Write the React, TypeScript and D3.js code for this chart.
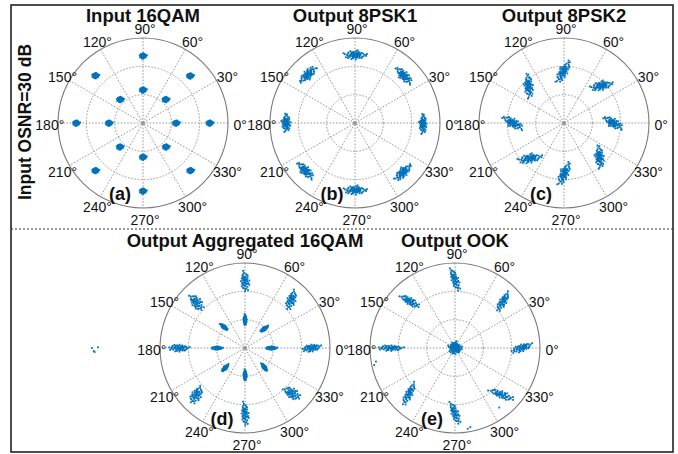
import React from 'react';
import * as d3 from 'd3';

// cluster = [angleDeg, radius, spreadMajor, spreadMinor, orientDeg, count]
type Cluster = [number, number, number, number, number, number];

const angleTicks = [0, 30, 60, 90, 120, 150, 180, 210, 240, 270, 300, 330];
const ringTicks = [1 / 3, 2 / 3];

const titles = ['Input 16QAM', 'Output 8PSK1', 'Output 8PSK2', 'Output Aggregated 16QAM', 'Output OOK'];
const tags = ['(a)', '(b)', '(c)', '(d)', '(e)'];

// hand-typed scatter pattern (unit offsets) reused for every cloud
const jitter: [number, number][] = [
  [0.12, -0.31], [-0.35, 0.08], [0.47, 0.22], [-0.18, -0.54], [0.23, 0.41], [-0.62, -0.17], [0.05, 0.09], [0.71, -0.24], [-0.26, 0.52], [0.24, -0.05],
  [-0.48, -0.39], [0.37, -0.58], [-0.09, 0.25], [0.56, 0.41], [-0.85, 0.15], [0.08, 0.78], [-0.17, -0.16], [0.45, -0.12], [-0.58, 0.31], [0.02, -0.45],
  [0.29, 0.17], [-0.14, 0.61], [0.83, 0.04], [-0.31, -0.78], [0.19, -0.28], [-0.54, 0.49], [0.41, 0.33], [-0.03, -0.11], [0.14, 0.36], [-0.41, -0.02],
  [1.0, 0.2], [-0.32, 0.14], [0.07, -0.86], [0.32, 0.59], [-0.12, 0.08], [0.61, -0.43], [-0.77, -0.45], [0.21, 0.06], [-0.05, 0.48], [0.38, -0.29],
  [-0.23, -0.31], [0.19, -0.49], [-0.67, 0.03], [0.68, 0.25], [-0.16, -0.66], [0.36, 0.12], [-0.39, 0.73], [0.09, 0.02], [0.54, -0.61], [-0.29, 0.37],
  [0.26, -0.19], [-0.96, 0.34], [0.11, 0.26], [-0.47, -0.18], [0.93, -0.17], [-0.08, -0.29], [0.22, 0.94], [-0.18, 0.29], [0.17, -0.13], [-0.59, -0.61],
];

const inputQam: Cluster[] = [
  [90, 0.79, 0.045, 0.04, 0, 40], [45, 0.785, 0.045, 0.04, 0, 40], [135, 0.79, 0.045, 0.04, 0, 40], [180, 0.785, 0.045, 0.04, 0, 40],
  [0, 0.785, 0.045, 0.04, 0, 40], [225, 0.79, 0.045, 0.04, 0, 40], [315, 0.79, 0.045, 0.04, 0, 40], [270, 0.80, 0.045, 0.04, 0, 40],
  [90, 0.39, 0.045, 0.04, 0, 40], [46, 0.386, 0.045, 0.04, 0, 40], [134, 0.386, 0.045, 0.04, 0, 40], [180, 0.40, 0.045, 0.04, 0, 40],
  [0, 0.39, 0.045, 0.04, 0, 40], [226, 0.39, 0.045, 0.04, 0, 40], [314, 0.39, 0.045, 0.04, 0, 40], [270, 0.40, 0.045, 0.04, 0, 40],
];

const out8psk1: Cluster[] = [
  [90, 0.80, 0.14, 0.06, 0, 70], [44, 0.80, 0.13, 0.06, 134, 70], [134, 0.795, 0.13, 0.06, 224, 70], [180, 0.81, 0.11, 0.06, 90, 70],
  [359, 0.80, 0.12, 0.05, 89, 70], [224, 0.81, 0.13, 0.06, 134, 70], [314, 0.81, 0.13, 0.06, 44, 70], [270, 0.79, 0.14, 0.06, 0, 70],
];

const out8psk2: Cluster[] = [
  [91, 0.60, 0.15, 0.06, 60, 70], [45, 0.62, 0.14, 0.06, 12, 70], [134, 0.60, 0.15, 0.06, 95, 70], [180, 0.60, 0.14, 0.06, 150, 70],
  [0, 0.58, 0.13, 0.06, 150, 70], [226, 0.58, 0.15, 0.06, 10, 70], [316, 0.58, 0.14, 0.06, 95, 70], [270, 0.60, 0.15, 0.06, 65, 70],
];

const outAgg: Cluster[] = [
  [90, 0.78, 0.13, 0.06, 95, 50], [46, 0.78, 0.13, 0.06, 70, 50], [137, 0.78, 0.12, 0.07, 130, 50], [180, 0.78, 0.13, 0.05, 0, 50],
  [0, 0.78, 0.12, 0.05, 10, 50], [224, 0.80, 0.12, 0.07, 60, 50], [316, 0.77, 0.12, 0.07, 150, 50], [270, 0.78, 0.15, 0.05, 95, 50],
  [90, 0.33, 0.07, 0.025, 90, 40], [45, 0.32, 0.06, 0.025, 35, 40], [135, 0.35, 0.06, 0.025, 140, 40], [180, 0.33, 0.07, 0.025, 0, 40],
  [0, 0.31, 0.07, 0.025, 0, 40], [225, 0.33, 0.06, 0.025, 45, 40], [315, 0.32, 0.06, 0.025, 125, 40], [270, 0.32, 0.07, 0.025, 90, 40],
];

const outOok: Cluster[] = [
  [0, 0, 0.085, 0.085, 0, 180],
  [90, 0.80, 0.15, 0.05, 110, 50], [44, 0.78, 0.14, 0.05, 60, 50], [134, 0.76, 0.14, 0.05, 150, 50], [180, 0.76, 0.16, 0.04, 0, 50],
  [0, 0.78, 0.14, 0.05, 20, 50], [225, 0.77, 0.16, 0.05, 63, 50], [315, 0.78, 0.17, 0.05, 159, 50], [270, 0.77, 0.15, 0.05, 112, 50],
];

// stray samples, cartesian (x, y) in units of the outer ring
const strayAgg: [number, number][] = [[-1.80, 0.0], [-1.78, -0.035], [-1.77, -0.047], [-1.73, 0.008]];
const strayOok: [number, number][] = [[-0.95, -0.2], [-0.93, -0.16], [0.18, -0.93], [0.15, -0.95], [0.52, -0.7]];

const clusterSets = [inputQam, out8psk1, out8psk2, outAgg, outOok];
const straySets: [number, number][][] = [[], [], [], strayAgg, strayOok];

const R = 85;
const rad = (a: number) => (a * Math.PI) / 180;

const cloud = (clusters: Cluster[], strays: [number, number][]) => {
  const pts: [number, number][] = [];
  clusters.forEach(([a, r, maj, min, o, n]) => {
    const cx = r * Math.cos(rad(a));
    const cy = r * Math.sin(rad(a));
    const co = Math.cos(rad(o));
    const so = Math.sin(rad(o));
    for (let i = 0; i < n; i++) {
      const k = Math.floor(i / jitter.length);
      const [j0, j1] = jitter[i % jitter.length];
      // reuse of the pattern: turned a quarter and pulled in on each pass
      const s = Math.pow(0.7, k);
      const u = (k % 2 ? j1 : j0) * (k % 2 ? -1 : 1) * s;
      const v = (k % 2 ? j0 : j1) * s;
      pts.push([cx + u * maj * co - v * min * so, cy + u * maj * so + v * min * co]);
    }
  });
  return pts.concat(strays);
};

const PolarPanel = ({ cx, cy, idx }: { cx: number; cy: number; idx: number }) => {
  const x = d3.scaleLinear().domain([-1, 1]).range([-R, R]);
  const y = d3.scaleLinear().domain([-1, 1]).range([R, -R]);
  const pts = cloud(clusterSets[idx], straySets[idx]);
  const grid = '#8c8c8c';

  return (
    <g transform={`translate(${cx},${cy})`}>
      {ringTicks.map((t) => (
        <circle key={t} r={x(t) - x(0)} fill="none" stroke={grid} strokeWidth={0.9} strokeDasharray="1.6,1.6" />
      ))}
      {angleTicks.slice(0, 6).map((a) => (
        <line
          key={a}
          x1={x(Math.cos(rad(a)))}
          y1={y(Math.sin(rad(a)))}
          x2={x(-Math.cos(rad(a)))}
          y2={y(-Math.sin(rad(a)))}
          stroke={grid}
          strokeWidth={0.9}
          strokeDasharray="1.6,1.6"
        />
      ))}
      <circle r={R} fill="none" stroke="#7a7a7a" strokeWidth={1.1} />
      <circle r={2} fill="#9a9a9a" />
      {angleTicks.map((a) => (
        <text
          key={a}
          x={x(1.12 * Math.cos(rad(a))) + 2}
          y={y(1.12 * Math.sin(rad(a))) + 1.5}
          textAnchor="middle"
          dominantBaseline="central"
          fontSize={14}
          fill="#111"
        >
          {a}°
        </text>
      ))}
      {pts.map((p, i) => (
        <rect key={i} x={x(p[0]) - 0.9} y={y(p[1]) - 0.9} width={1.8} height={1.8} fill="#0072BD" />
      ))}
      <text y={-101} textAnchor="middle" fontSize={18.5} fontWeight="bold" fill="#111">
        {titles[idx]}
      </text>
      <text x={-23} y={77} textAnchor="middle" fontSize={18} fontWeight="bold" fill="#111">
        {tags[idx]}
      </text>
    </g>
  );
};

export default function App() {
  const centres: [number, number][] = [[143, 123], [355, 123], [564, 123], [245, 348], [455, 348]];
  return (
    <svg
      width={678}
      height={454}
      style={{ position: 'absolute', left: 0, top: 0, fontFamily: '"Liberation Sans", Arial, sans-serif' }}
    >
      <rect width={678} height={454} fill="#fff" />
      <rect x={11} y={5} width={662} height={447} fill="none" stroke="#222" strokeWidth={1.6} />
      <line x1={11} x2={673} y1={229} y2={229} stroke="#333" strokeWidth={1} strokeDasharray="2,2" />
      <text
        transform="translate(31,122) rotate(-90)"
        textAnchor="middle"
        fontSize={17.5}
        fontWeight="bold"
        fill="#111"
      >
        Input OSNR=30 dB
      </text>
      {centres.map((c, i) => (
        <PolarPanel key={i} cx={c[0]} cy={c[1]} idx={i} />
      ))}
    </svg>
  );
}
